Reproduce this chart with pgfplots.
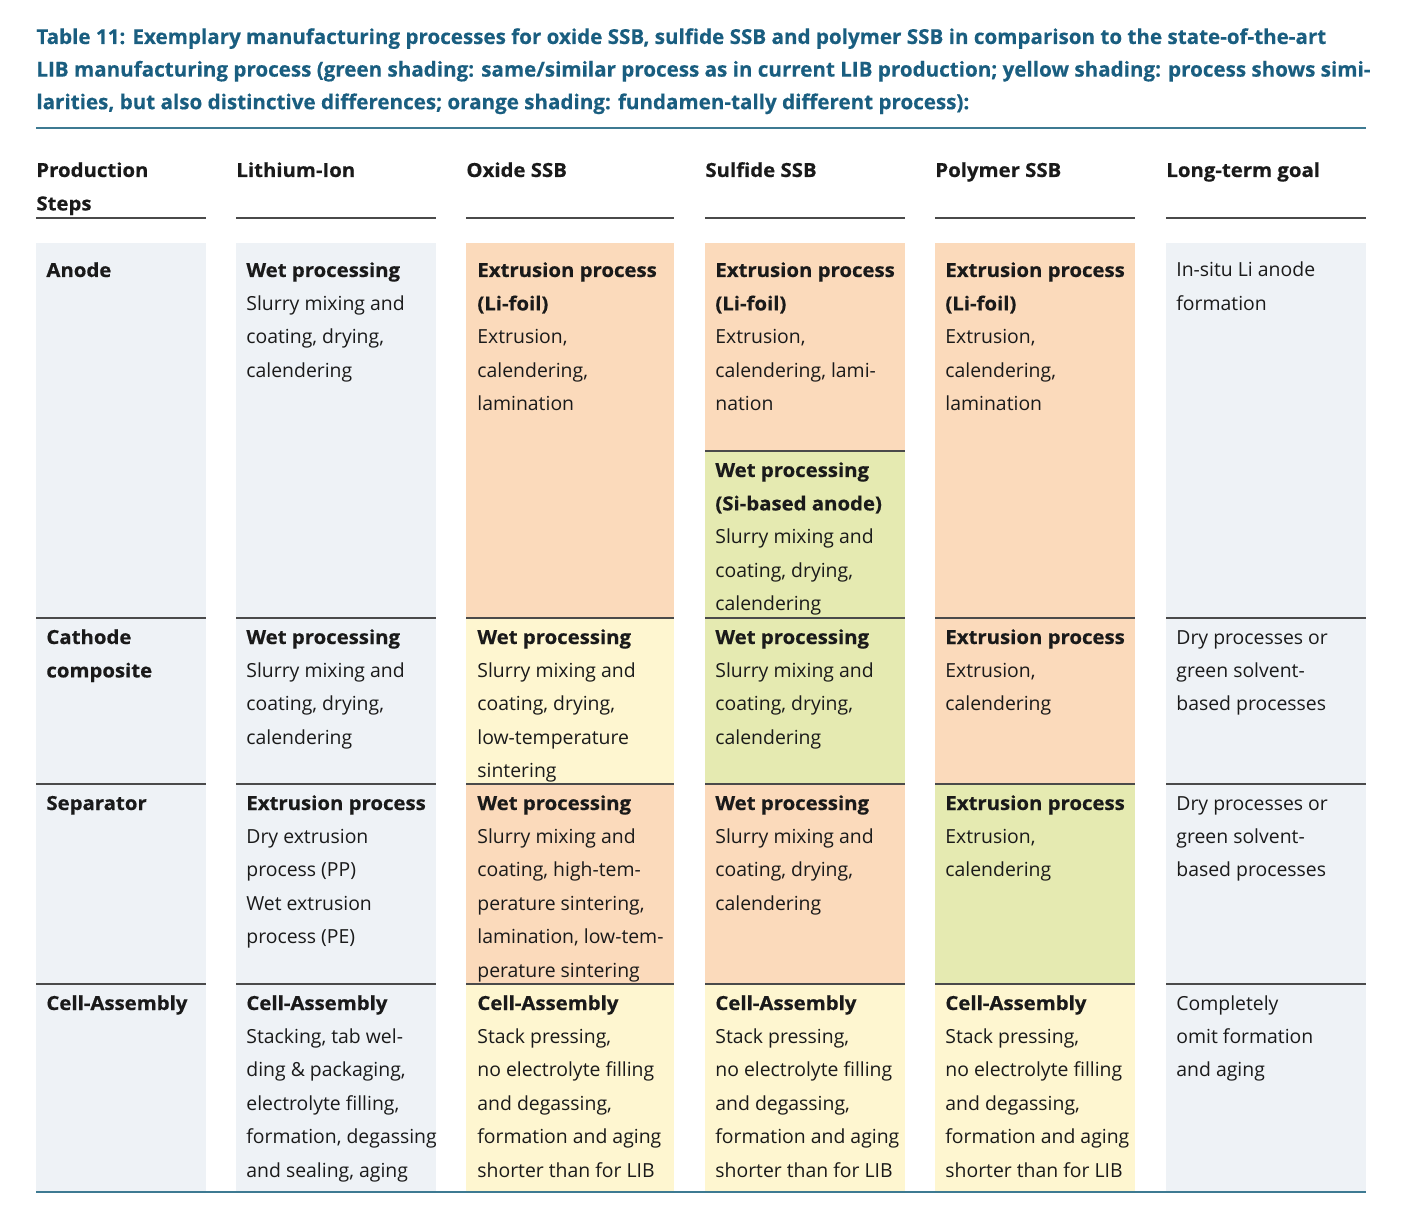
\documentclass[border=0pt]{standalone}
\usepackage{pgfplots}
\pgfplotsset{compat=1.18}
\usepackage{fontspec}
\setmainfont{Open Sans}[BoldFeatures={FakeStretch=1.05,FakeBold=0.5}]
\newfontfamily\titlefont{Open Sans}[BoldFeatures={FakeBold=0.4}]
\definecolor{cgray}{HTML}{EEF2F6}
\definecolor{corange}{HTML}{FBDABB}
\definecolor{cyellow}{HTML}{FEF6D0}
\definecolor{cgreen}{HTML}{E5EAB1}
\definecolor{ctitle}{HTML}{1A5E80}
\definecolor{crule}{HTML}{3E7A92}
\definecolor{cdiv}{HTML}{4A4A4A}
\definecolor{ctxt}{HTML}{1A1A1A}
\newcommand{\cellbox}[5]{\addplot[fill=#5, draw=none] coordinates {(#1,#2) (#3,#2) (#3,#4) (#1,#4)} -- cycle;}
\newcommand{\hl}[4]{\addplot[draw=#4, line width=0.75pt] coordinates {(#1,#3) (#2,#3)};}
\newcommand{\txt}[3]{\node[anchor=base west, inner sep=0pt, text=ctxt, font=\fontsize{9.7}{16.7}\selectfont] at (axis cs:#1,#2) {\begin{tabular}[t]{@{}l@{}}#3\end{tabular}};}
\begin{document}
\begin{tikzpicture}
\begin{axis}[scale only axis, width=701.5pt, height=609.5pt,
  xmin=0, xmax=1403, ymin=0, ymax=1219, y dir=reverse,
  axis lines=none, clip=false]
\addplot[draw=none] coordinates {(0,0) (1403,1219)};
% column 1 and 2 and 6 gray
\cellbox{36}{243}{206}{1192}{cgray}
\cellbox{236}{243}{436}{1192}{cgray}
\cellbox{1166}{243}{1366}{1192}{cgray}
% oxide
\cellbox{466}{243}{674}{618}{corange}
\cellbox{466}{618}{674}{784}{cyellow}
\cellbox{466}{784}{674}{984}{corange}
\cellbox{466}{984}{674}{1192}{cyellow}
% sulfide
\cellbox{705}{243}{905}{451}{corange}
\cellbox{705}{451}{905}{618}{cgreen}
\cellbox{705}{618}{905}{784}{cgreen}
\cellbox{705}{784}{905}{984}{corange}
\cellbox{705}{984}{905}{1192}{cyellow}
% polymer
\cellbox{935}{243}{1135}{618}{corange}
\cellbox{935}{618}{1135}{784}{corange}
\cellbox{935}{784}{1135}{984}{cgreen}
\cellbox{935}{984}{1135}{1192}{cyellow}
% header underlines
\hl{36}{206}{218}{cdiv}
\hl{236}{436}{218}{cdiv}
\hl{466}{674}{218}{cdiv}
\hl{705}{905}{218}{cdiv}
\hl{935}{1135}{218}{cdiv}
\hl{1166}{1366}{218}{cdiv}
% row dividers
\hl{36}{206}{618}{cdiv}\hl{236}{436}{618}{cdiv}\hl{466}{674}{618}{cdiv}\hl{705}{905}{618}{cdiv}\hl{935}{1135}{618}{cdiv}\hl{1166}{1366}{618}{cdiv}
\hl{36}{206}{784}{cdiv}\hl{236}{436}{784}{cdiv}\hl{466}{674}{784}{cdiv}\hl{705}{905}{784}{cdiv}\hl{935}{1135}{784}{cdiv}\hl{1166}{1366}{784}{cdiv}
\hl{36}{206}{984}{cdiv}\hl{236}{436}{984}{cdiv}\hl{466}{674}{984}{cdiv}\hl{705}{905}{984}{cdiv}\hl{935}{1135}{984}{cdiv}\hl{1166}{1366}{984}{cdiv}
\hl{705}{905}{451}{cdiv}
% title rule and bottom rule
\addplot[draw=crule, line width=1pt] coordinates {(36,128) (1366,128)};
\addplot[draw=crule, line width=1pt] coordinates {(36,1192) (1366,1192)};
% title
\node[anchor=base west, inner sep=0pt, text=ctitle, font=\titlefont\fontsize{10.3}{16.3}\selectfont\bfseries] at (axis cs:36,44) {\begin{tabular}[t]{@{}l@{}}Table 11: Exemplary manufacturing processes for oxide SSB, sulfide SSB and polymer SSB in comparison to the state-of-the-art\\LIB manufacturing process (green shading: same/similar process as in current LIB production; yellow shading: process shows simi-\\larities, but also distinctive differences; orange shading: fundamen-tally different process):\end{tabular}};
% headers
\txt{36}{177}{\textbf{Production}\\\textbf{Steps}}
\txt{236}{177}{\textbf{Lithium-Ion}}
\txt{466}{177}{\textbf{Oxide SSB}}
\txt{705}{177}{\textbf{Sulfide SSB}}
\txt{935}{177}{\textbf{Polymer SSB}}
\txt{1166}{177}{\textbf{Long-term goal}}
% column 1
\txt{46}{277}{\textbf{Anode}}
\txt{46}{644}{\textbf{Cathode}\\\textbf{composite}}
\txt{46}{810}{\textbf{Separator}}
\txt{46}{1010}{\textbf{Cell-Assembly}}
% column 2
\txt{246}{277}{\textbf{Wet processing}\\Slurry mixing and\\coating, drying,\\calendering}
\txt{246}{644}{\textbf{Wet processing}\\Slurry mixing and\\coating, drying,\\calendering}
\txt{246}{810}{\textbf{Extrusion process}\\Dry extrusion\\process (PP)\\Wet extrusion\\process (PE)}
\txt{246}{1010}{\textbf{Cell-Assembly}\\Stacking, tab wel-\\ding \& packaging,\\electrolyte filling,\\formation, degassing\\and sealing, aging}
% column 3
\txt{477}{277}{\textbf{Extrusion process}\\\textbf{(Li-foil)}\\Extrusion,\\calendering,\\lamination}
\txt{477}{644}{\textbf{Wet processing}\\Slurry mixing and\\coating, drying,\\low-temperature\\sintering}
\txt{477}{810}{\textbf{Wet processing}\\Slurry mixing and\\coating, high-tem-\\perature sintering,\\lamination, low-tem-\\perature sintering}
\txt{477}{1010}{\textbf{Cell-Assembly}\\Stack pressing,\\no electrolyte filling\\and degassing,\\formation and aging\\shorter than for LIB}
% column 4
\txt{715}{277}{\textbf{Extrusion process}\\\textbf{(Li-foil)}\\Extrusion,\\calendering, lami-\\nation}
\txt{715}{477}{\textbf{Wet processing}\\\textbf{(Si-based anode)}\\Slurry mixing and\\coating, drying,\\calendering}
\txt{715}{644}{\textbf{Wet processing}\\Slurry mixing and\\coating, drying,\\calendering}
\txt{715}{810}{\textbf{Wet processing}\\Slurry mixing and\\coating, drying,\\calendering}
\txt{715}{1010}{\textbf{Cell-Assembly}\\Stack pressing,\\no electrolyte filling\\and degassing,\\formation and aging\\shorter than for LIB}
% column 5
\txt{945}{277}{\textbf{Extrusion process}\\\textbf{(Li-foil)}\\Extrusion,\\calendering,\\lamination}
\txt{945}{644}{\textbf{Extrusion process}\\Extrusion,\\calendering}
\txt{945}{810}{\textbf{Extrusion process}\\Extrusion,\\calendering}
\txt{945}{1010}{\textbf{Cell-Assembly}\\Stack pressing,\\no electrolyte filling\\and degassing,\\formation and aging\\shorter than for LIB}
% column 6
\txt{1176}{277}{In-situ Li anode\\formation}
\txt{1176}{644}{Dry processes or\\green solvent-\\based processes}
\txt{1176}{810}{Dry processes or\\green solvent-\\based processes}
\txt{1176}{1010}{Completely\\omit formation\\and aging}
\end{axis}
\end{tikzpicture}
\end{document}
